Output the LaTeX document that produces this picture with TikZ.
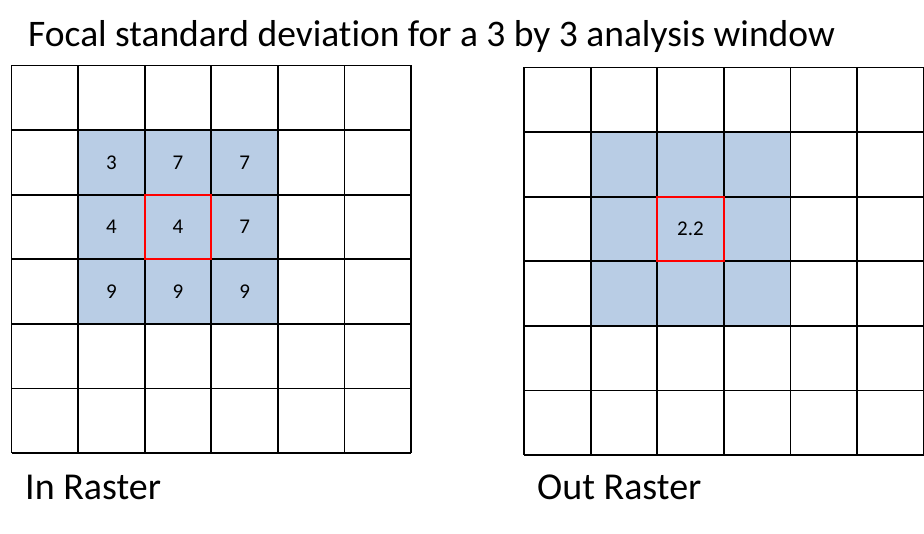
\documentclass[tikz,border=0pt]{standalone}
\usepackage{fontspec}
\setmainfont{Carlito}[Ligatures=NoCommon]
\usepackage{xcolor}
\usetikzlibrary{calc}

\definecolor{windowBlue}{RGB}{185,205,229}

\begin{document}
\begin{tikzpicture}[x=1pt, y=-1pt]
			\def\c{66.6};
			\def\r{64.6};
			\def\inX{11.5};
			\def\inY{65.5};
			\def\outX{524};
			\def\outY{67.5};

			\useasboundingbox (0,0) rectangle (924,534);

			\newcommand{\fillWindow}[2]
			{
				\fill [windowBlue] ($ (#1,#2) + (\c,\r) $) rectangle ++(3*\c,3*\r);
			}

			\newcommand{\drawRaster}[2]
			{
				\foreach \i in {0,...,6}
				{
					\draw [line width=1.8pt] ($ (#1,#2) + (\i*\c,0) $) -- ++(0,6*\r);
					\draw [line width=1.8pt] ($ (#1,#2) + (0,\i*\r) $) -- ++(6*\c,0);
				}
			}

			\newcommand{\drawFocalCell}[2]
			{
				\draw [red, line width=1.8pt] ($ (#1,#2) + (2*\c,2*\r) $) rectangle ++(\c,\r);
			}

			\node [anchor=base west, inner sep=0, font=\fontsize{37.5}{42}\selectfont] (title) at (28,47) {Focal standard deviation for a 3 by 3 analysis window};

			\begin{scope}
				\fillWindow{\inX}{\inY};
				\drawRaster{\inX}{\inY};
				\drawFocalCell{\inX}{\inY};
				\foreach \v [count=\k from 0] in {3,7,7,4,4,7,9,9,9}
				{
					\pgfmathtruncatemacro{\col}{mod(\k,3)+1}
					\pgfmathtruncatemacro{\row}{div(\k,3)+1}
					\node [font=\fontsize{21}{24}\selectfont] (in-\k) at ($ (\inX,\inY) + (\col*\c+0.5*\c,\row*\r+0.5*\r) $) {\v};
				}
				\node [anchor=base west, inner sep=0, font=\fontsize{38}{42}\selectfont] (inLabel) at (25,499) {In Raster};
			\end{scope}

			\begin{scope}
				\fillWindow{\outX}{\outY};
				\drawRaster{\outX}{\outY};
				\drawFocalCell{\outX}{\outY};
				\node [font=\fontsize{21}{24}\selectfont] (out) at ($ (\outX,\outY) + (2.5*\c,2.5*\r) $) {2.2};
				\node [anchor=base west, inner sep=0, font=\fontsize{38}{42}\selectfont] (outLabel) at (537,499) {Out Raster};
			\end{scope}
		\end{tikzpicture}
\end{document}
